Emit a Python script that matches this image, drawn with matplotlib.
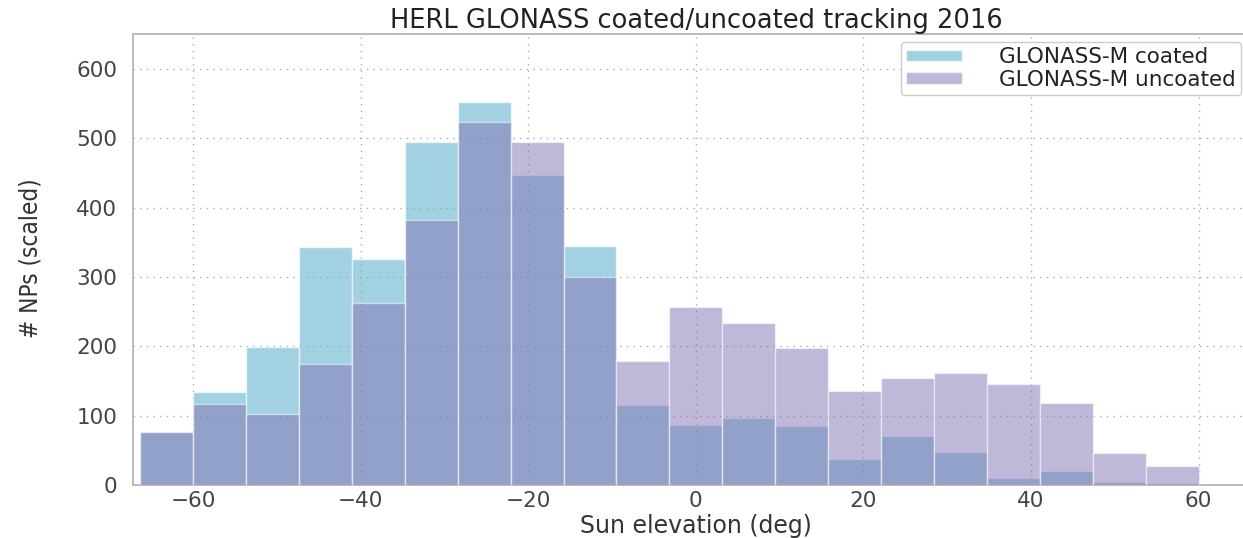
import numpy as np
import matplotlib
matplotlib.use("Agg")
import matplotlib.pyplot as plt

plt.rcParams["font.family"] = ["DejaVu Sans"]

# Data: 20 bins, the last 19 spanning -60..60
bin_lo, bin_hi, n_bins = -60 - 120 / 19, 60, 20
coated = [76, 134, 199, 343, 326, 494, 553, 447, 345, 115, 86, 97, 85, 37, 70, 48, 10, 20, 4, 0]
uncoated = [76, 117, 102, 174, 263, 382, 524, 494, 300, 179, 256, 233, 197, 135, 154, 161, 146, 118, 46, 28]
labels = ["GLONASS-M coated", "GLONASS-M uncoated"]
xticks = [-60, -40, -20, 0, 20, 40, 60]
yticks = [0, 100, 200, 300, 400, 500, 600]

bin_edges = np.linspace(bin_lo, bin_hi, n_bins + 1)
centers = (bin_edges[:-1] + bin_edges[1:]) / 2

fig = plt.figure(figsize=(12.43, 5.38), dpi=100)
W, H = 1243.0, 538.0
left, right, top, bottom = 132.7, 1259.0, 34.3, 485.0
ax = fig.add_axes([left / W, 1 - bottom / H, (right - left) / W, (bottom - top) / H])

ax.hist(centers, bins=bin_edges, weights=coated, color="#64B5CD", alpha=0.6,
        edgecolor="white", linewidth=1.0, label=labels[0], zorder=2)
ax.hist(centers, bins=bin_edges, weights=uncoated, color="#8172B2", alpha=0.5,
        edgecolor="white", linewidth=1.0, label=labels[1], zorder=3)

ax.set_xlim(-67.2, 67.2)
ax.set_ylim(0, 650)
ax.set_xticks(xticks)
ax.set_yticks(yticks)
ax.grid(True, linestyle=(0, (1, 3.8)), color="#aaaaaa", linewidth=1.0, zorder=0)
ax.set_axisbelow(True)
for s in ax.spines.values():
    s.set_color("#bbbbbb")
    s.set_linewidth(1.4)
ax.tick_params(axis="both", length=0, labelsize=15.5, labelcolor="#444444")
ax.tick_params(axis="y", pad=11)
ax.tick_params(axis="x", pad=4)

ax.set_title("HERL GLONASS coated/uncoated tracking 2016", fontsize=18.5,
             color="#222222", pad=3)
ax.set_xlabel("Sun elevation (deg)", fontsize=17, color="#333333", va="center")
ax.xaxis.set_label_coords(0.5, -(526 - bottom) / (bottom - top))
ax.set_ylabel("# NPs (scaled)", fontsize=17.5, color="#333333",
              fontstretch="condensed", va="center")
ax.yaxis.set_label_coords((31 - left) / (right - left), (bottom - 258) / (bottom - top))

leg = ax.legend(loc="upper right", bbox_to_anchor=(1241 / W, 1 - 41.7 / H),
                bbox_transform=fig.transFigure, borderaxespad=0.0,
                fontsize=15.5, frameon=True, fancybox=True, borderpad=0.25,
                labelspacing=0.12, handlelength=2.6, handleheight=0.45,
                handletextpad=1.7)
leg.get_frame().set_edgecolor("#cccccc")
leg.get_frame().set_alpha(1.0)
for t in leg.get_texts():
    t.set_color("#222222")

fig.savefig("out.png", dpi=100)
